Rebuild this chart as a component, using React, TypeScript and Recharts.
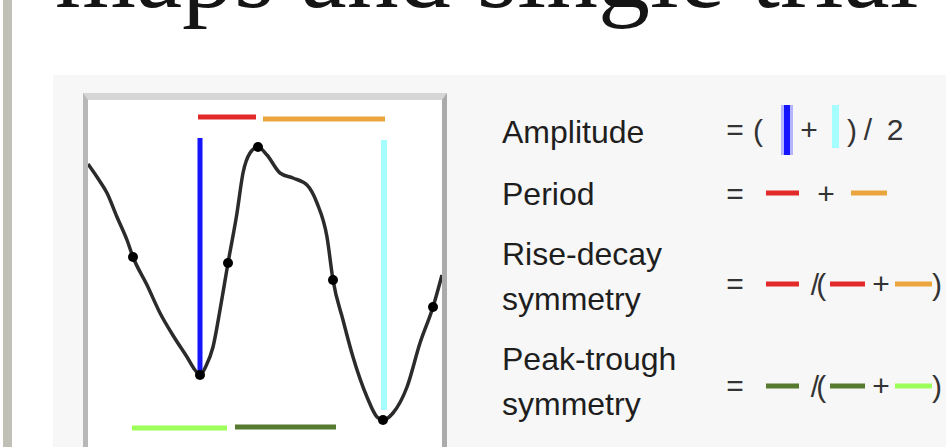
import { ComposedChart, Line, Scatter, XAxis, YAxis, ReferenceLine } from 'recharts';

// single-trial waveform (t in samples, v in arbitrary units)
const TIMES = [0, 9, 19, 29, 39, 45, 59, 72, 86, 99, 107, 112, 118, 125, 132, 140, 149, 155, 162, 170, 179, 192, 205, 219, 229, 239, 245, 255, 265, 279, 289, 295, 305, 319, 332, 345, 354];
const VOLTS = [296, 283, 267, 243, 220, 203, 175, 147, 123, 103, 90, 85, 94, 113, 150, 197, 247, 287, 307, 313, 305, 287, 282, 275, 257, 223, 180, 140, 103, 63, 43, 40, 47, 73, 117, 153, 185];

// extrema + zero-crossing markers
const MARK_TIMES = [45, 112, 140, 170, 245, 295, 345];
const MARK_VOLTS = [203, 85, 197, 313, 180, 40, 153];

// amplitude bars: [time, from, to]
const RISE_AMP = [112, 85, 322];
const DECAY_AMP = [296, 50, 320];

// period pieces: [start, end, level]
const RISE_SPAN = [110, 168, 343];
const DECAY_SPAN = [175, 297, 341];
const TROUGH_SPAN = [44, 139, 32];
const PEAK_SPAN = [147, 248, 33];

const LABELS = ['Amplitude', 'Period', 'Rise-decay', 'symmetry', 'Peak-trough', 'symmetry'];
const TITLE = 'maps and single trial';

const BLUE = '#1414ff';
const CYAN = '#a6ffff';
const RED = '#e22a2a';
const ORANGE = '#eba53e';
const LIGHT_GREEN = '#9cff5a';
const DARK_GREEN = '#567a2f';

const curve = TIMES.map((t, i) => ({ t, v: VOLTS[i] }));
const markers = MARK_TIMES.map((t, i) => ({ t, v: MARK_VOLTS[i] }));

const seg = (a: number[], vertical: boolean) =>
  vertical
    ? [{ x: a[0], y: a[1] }, { x: a[0], y: a[2] }]
    : [{ x: a[0], y: a[2] }, { x: a[1], y: a[2] }];

function Trace() {
  return (
    <ComposedChart width={354} height={360} data={curve} margin={{ top: 0, right: 0, bottom: 0, left: 0 }}>
      <XAxis dataKey="t" type="number" domain={[0, 354]} hide />
      <YAxis type="number" domain={[0, 360]} hide />
      <ReferenceLine segment={seg(RISE_AMP, true)} stroke={BLUE} strokeWidth={5} />
      <ReferenceLine segment={seg(DECAY_AMP, true)} stroke={CYAN} strokeWidth={6} />
      <ReferenceLine segment={seg(RISE_SPAN, false)} stroke={RED} strokeWidth={5} />
      <ReferenceLine segment={seg(DECAY_SPAN, false)} stroke={ORANGE} strokeWidth={5} />
      <ReferenceLine segment={seg(TROUGH_SPAN, false)} stroke={LIGHT_GREEN} strokeWidth={5} />
      <ReferenceLine segment={seg(PEAK_SPAN, false)} stroke={DARK_GREEN} strokeWidth={5} />
      <Line dataKey="v" type="monotone" stroke="#2b2b2b" strokeWidth={3.5} dot={false} isAnimationActive={false} />
      <Scatter
        data={markers}
        dataKey="v"
        isAnimationActive={false}
        shape={(p: any) => <circle cx={p.cx} cy={p.cy} r={5} fill="#000" />}
      />
    </ComposedChart>
  );
}

const dash = (x1: number, x2: number, cy: number, color: string) => (
  <rect x={x1} y={cy - 2.5} width={x2 - x1} height={5} fill={color} />
);

export default function App() {
  const sans = { fontFamily: '"Liberation Sans", Arial, sans-serif' };
  return (
    <div style={{ position: 'absolute', left: 0, top: 0, width: 946, height: 447, overflow: 'hidden', background: '#fff' }}>
      <div style={{ position: 'absolute', left: 3, top: 0, width: 9, height: 447, background: '#c0c0b7' }} />
      <div style={{ position: 'absolute', left: 53, top: 75, width: 893, height: 372, background: '#f7f7f7' }} />
      <div
        style={{
          position: 'absolute', left: 83, top: 93, width: 364, height: 400, boxSizing: 'border-box',
          background: '#fff', borderTop: '7px solid #d6d6d6', borderLeft: '5px solid #b8b8b8', borderRight: '5px solid #ababab',
        }}
      />
      <div style={{ position: 'absolute', left: 88, top: 100 }}>
        <Trace />
      </div>
      <svg width={946} height={447} style={{ position: 'absolute', left: 0, top: 0, pointerEvents: 'none' }}>
        <text x={55} y={7} fontFamily='"Liberation Serif", serif' fontSize={104} fill="#151515">{TITLE}</text>
        <g {...sans} fontSize={32} fill="#1e1e1e">
          <text x={502} y={143}>{LABELS[0]}</text>
          <text x={502} y={205}>{LABELS[1]}</text>
          <text x={502} y={265}>{LABELS[2]}</text>
          <text x={502} y={310}>{LABELS[3]}</text>
          <text x={502} y={370}>{LABELS[4]}</text>
          <text x={502} y={415}>{LABELS[5]}</text>
        </g>
        <g {...sans} fontSize={30} fill="#333" textAnchor="middle">
          <text x={735} y={140}>=</text>
          <text x={758} y={141}>(</text>
          <text x={809} y={140}>+</text>
          <text x={852} y={141}>)</text>
          <text x={868} y={140}>/</text>
          <text x={895} y={140}>2</text>

          <text x={735} y={204}>=</text>
          <text x={826} y={204}>+</text>

          <text x={735} y={294}>=</text>
          <text x={817} y={295} letterSpacing={-3}>/(</text>
          <text x={881} y={294}>+</text>
          <text x={937} y={295}>)</text>

          <text x={735} y={396}>=</text>
          <text x={817} y={397} letterSpacing={-3}>/(</text>
          <text x={881} y={396}>+</text>
          <text x={937} y={397}>)</text>
        </g>
        <rect x={781} y={105} width={12} height={50} fill="#b4b4ff" />
        <rect x={784} y={105} width={6} height={50} fill={BLUE} />
        <rect x={832} y={105} width={7} height={43} fill={CYAN} />
        {dash(766, 799, 193, RED)}
        {dash(851, 887, 193, ORANGE)}
        {dash(766, 799, 284, RED)}
        {dash(830, 865, 284, RED)}
        {dash(895, 932, 284, ORANGE)}
        {dash(766, 799, 386, DARK_GREEN)}
        {dash(830, 865, 386, DARK_GREEN)}
        {dash(895, 932, 386, LIGHT_GREEN)}
      </svg>
    </div>
  );
}
